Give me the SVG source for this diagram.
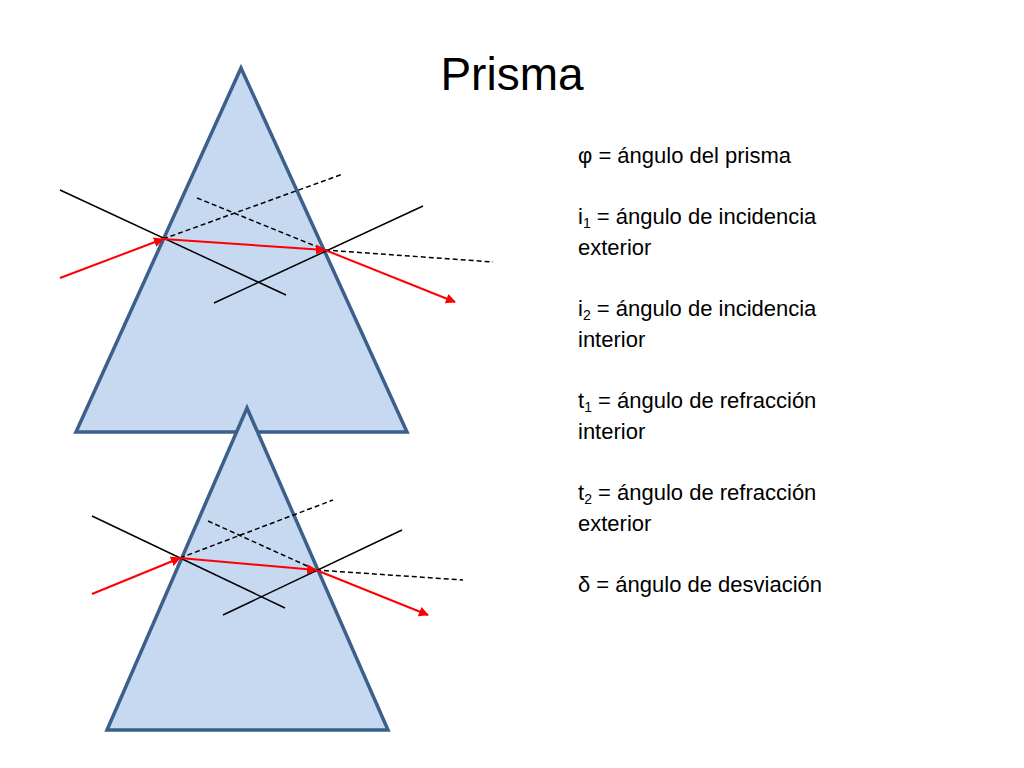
<svg xmlns="http://www.w3.org/2000/svg" width="1024" height="768" viewBox="0 0 1024 768">
<style>
.prism{fill:#c6d9f0;stroke:#3c5f8c;stroke-width:3.5}
.n{stroke:#000;stroke-width:1.5;fill:none}
.d{stroke:#000;stroke-width:1.5;stroke-dasharray:5,3;fill:none}
.r{stroke:#f00;stroke-width:2;fill:none;marker-end:url(#a)}
.t{font-family:"Liberation Sans",Arial,sans-serif;font-size:22px;fill:#000}
</style>
<defs><marker id="a" viewBox="0 0 10 10" refX="9" refY="5" markerWidth="5" markerHeight="5" orient="auto"><path d="M0,0L10,5L0,10z" fill="#f00"/></marker></defs>
<rect width="1024" height="768" fill="#fff"/>
<text x="512" y="90" text-anchor="middle" font-family="Liberation Sans,Arial,sans-serif" font-size="46">Prisma</text>
<g id="prism1"><polygon class="prism" points="241,68 76,432 407,432"/></g>
<g id="prism2"><polygon class="prism" points="247,408 107,730 388,730"/></g>
<g id="connectors">
<line class="n" x1="60" y1="190" x2="286" y2="295"/>
<line class="n" x1="423" y1="206" x2="214" y2="303"/>
<line class="d" x1="163" y1="239" x2="343" y2="174"/>
<line class="d" x1="197" y1="198" x2="325" y2="250"/>
<line class="d" x1="325" y1="250" x2="493" y2="262"/>
<line class="r" x1="60" y1="278" x2="163" y2="239"/>
<line class="r" x1="163" y1="239" x2="325" y2="250"/>
<line class="r" x1="325" y1="250" x2="455" y2="302"/>
<line class="n" x1="92" y1="516" x2="285" y2="608"/>
<line class="n" x1="402" y1="530" x2="223" y2="615"/>
<line class="d" x1="180" y1="558" x2="333" y2="500"/>
<line class="d" x1="208" y1="521" x2="316" y2="570"/>
<line class="d" x1="316" y1="570" x2="463" y2="580"/>
<line class="r" x1="92" y1="594" x2="180" y2="558"/>
<line class="r" x1="180" y1="558" x2="316" y2="570"/>
<line class="r" x1="316" y1="570" x2="428" y2="615"/>
</g>
<g id="legend" class="t">
<text x="578" y="163">φ = ángulo del prisma</text>
<text x="578" y="224">i<tspan font-size="14" dy="4">1</tspan><tspan dy="-4"> = ángulo de incidencia</tspan></text>
<text x="578" y="255">exterior</text>
<text x="578" y="316">i<tspan font-size="14" dy="4">2</tspan><tspan dy="-4"> = ángulo de incidencia</tspan></text>
<text x="578" y="347">interior</text>
<text x="578" y="408">t<tspan font-size="14" dy="4">1</tspan><tspan dy="-4"> = ángulo de refracción</tspan></text>
<text x="578" y="439">interior</text>
<text x="578" y="500">t<tspan font-size="14" dy="4">2</tspan><tspan dy="-4"> = ángulo de refracción</tspan></text>
<text x="578" y="531">exterior</text>
<text x="578" y="592">δ  = ángulo de desviación</text>
</g>
</svg>
